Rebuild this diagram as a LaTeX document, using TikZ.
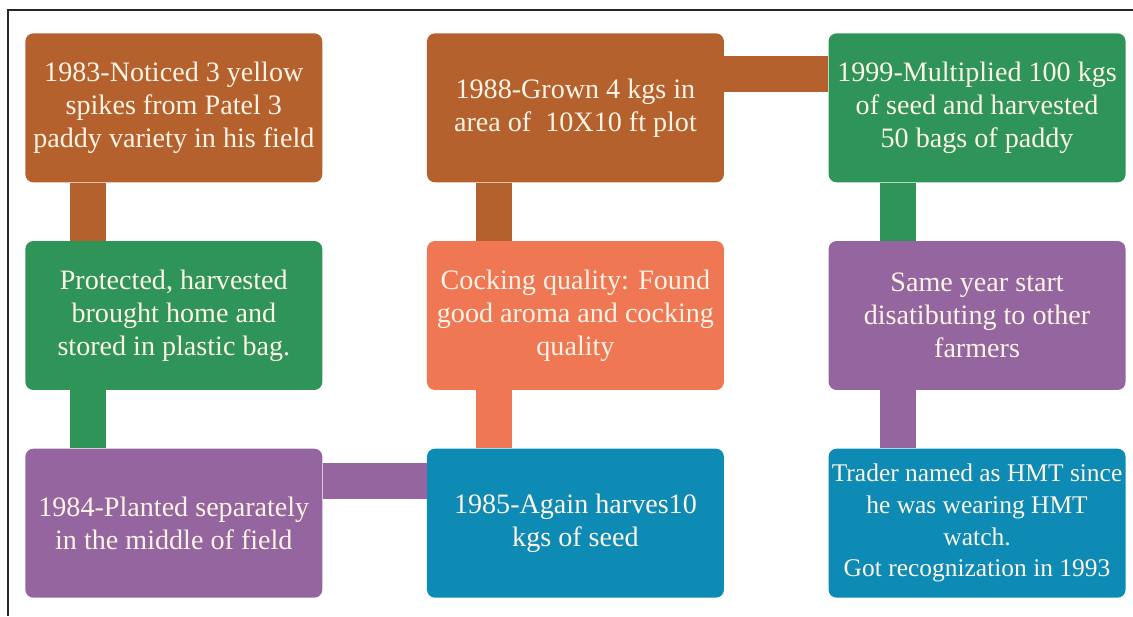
\documentclass[tikz,border=0pt]{standalone}
\usepackage{fontspec}
\setmainfont{Liberation Serif}
\usetikzlibrary{positioning}

\definecolor{rust}{HTML}{B5612E}
\definecolor{leaf}{HTML}{2F9457}
\definecolor{coral}{HTML}{EF7753}
\definecolor{plum}{HTML}{9565A0}
\definecolor{sea}{HTML}{0E8BB4}
\definecolor{cream}{HTML}{FDF4E6}

\begin{document}
\begin{tikzpicture}[x=0.02cm, y=-0.02cm,
    box/.style={rounded corners=0.16cm, minimum width=5.94cm, minimum height=2.98cm,
                inner sep=0pt, text=cream, align=center,
                font=\fontsize{16}{18.8}\selectfont},
    bar/.style={line width=0.72cm}]

                  \useasboundingbox (0,0) rectangle (1133,616);
                  \draw[line width=0.8pt, black!85] (1133,10) -- (8,10) -- (8,616);

                  \node[box, fill=rust, anchor=north west] (noticed) at (25,33)
                        {1983-Noticed 3 yellow\\spikes from Patel 3\\paddy variety in his field};
                  \node[box, fill=leaf, below=1.16cm of noticed] (stored)
                        {Protected, harvested\\brought home and\\stored in plastic bag.};
                  \node[box, fill=plum, below=1.16cm of stored] (planted)
                        {1984-Planted separately\\in the middle of field};

                  \node[box, fill=sea, right=2.08cm of planted] (harvest)
                        {1985-Again harves10\\kgs of seed};
                  \node[box, fill=coral, above=1.16cm of harvest] (cocking)
                        {Cocking quality: Found\\good aroma and cocking\\quality};
                  \node[box, fill=rust, above=1.16cm of cocking] (grown)
                        {1988-Grown 4 kgs in\\area of~~10X10 ft plot};

                  \node[box, fill=leaf, right=2.08cm of grown] (multiplied)
                        {1999-Multiplied 100 kgs\\of seed and harvested\\50 bags of paddy};
                  \node[box, fill=plum, below=1.16cm of multiplied] (spread)
                        {Same year start\\disatibuting to other\\farmers};
                  \node[box, fill=sea, below=1.16cm of spread, font=\fontsize{14.5}{18}\selectfont] (trader)
                        {Trader named as HMT since\\he was wearing HMT\\watch.\\Got recognization in 1993};

                  \draw[bar, rust] ([xshift=1.27cm]noticed.south west) -- ([xshift=1.27cm]stored.north west);
                  \draw[bar, leaf] ([xshift=1.27cm]stored.south west) -- ([xshift=1.27cm]planted.north west);
                  \draw[bar, plum] ([yshift=-0.65cm]planted.north east) -- ([yshift=-0.65cm]harvest.north west);
                  \draw[bar, coral] ([xshift=1.34cm]harvest.north west) -- ([xshift=1.34cm]cocking.south west);
                  \draw[bar, rust] ([xshift=1.34cm]cocking.north west) -- ([xshift=1.34cm]grown.south west);
                  \draw[bar, rust] ([yshift=-0.83cm]grown.north east) -- ([yshift=-0.83cm]multiplied.north west);
                  \draw[bar, leaf] ([xshift=1.4cm]multiplied.south west) -- ([xshift=1.4cm]spread.north west);
                  \draw[bar, plum] ([xshift=1.4cm]spread.south west) -- ([xshift=1.4cm]trader.north west);

              \end{tikzpicture}
\end{document}
